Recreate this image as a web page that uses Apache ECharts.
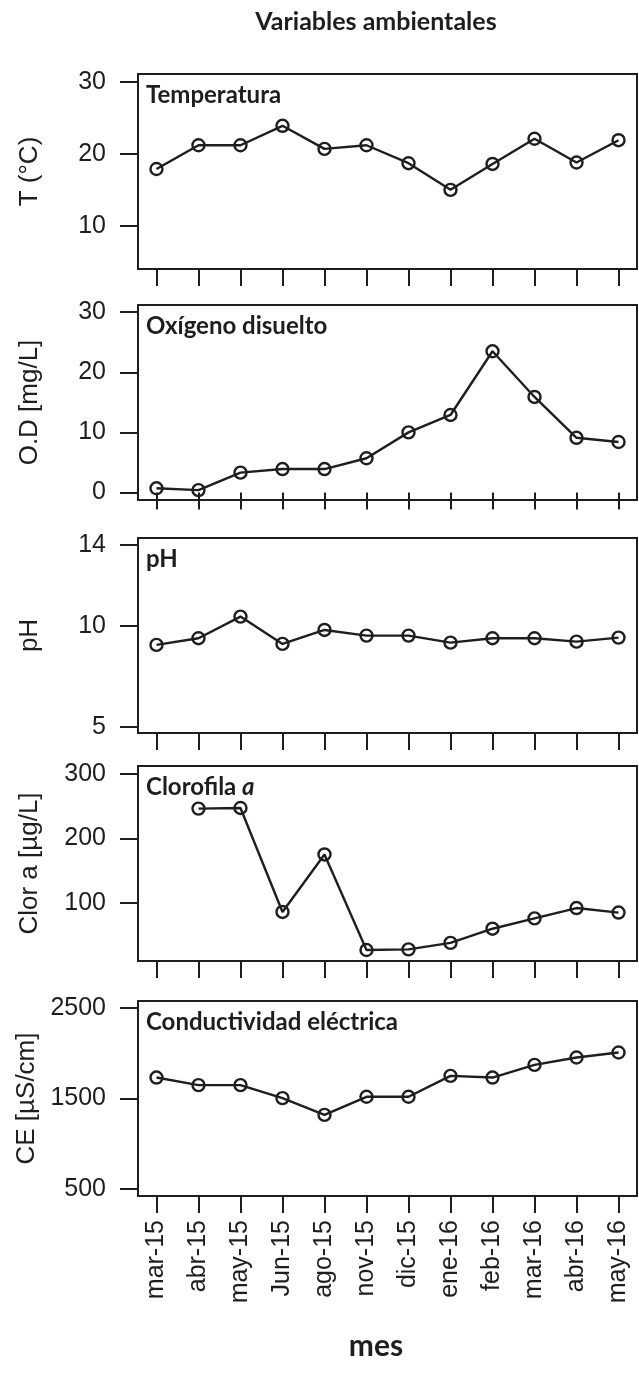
<!DOCTYPE html>
<html>
<head>
<meta charset="utf-8">
<script src="https://cdn.jsdelivr.net/npm/echarts@6/dist/echarts.min.js"></script>
<style>
html,body{margin:0;padding:0;background:#fff}
#main{width:639px;height:1378px}
</style>
</head>
<body>
<div id="main"></div>
<script>
// meses de muestreo
var months = ['mar-15','abr-15','may-15','Jun-15','ago-15','nov-15','dic-15','ene-16','feb-16','mar-16','abr-16','may-16'];
var monthTicks = [1,2,3,4,5,6,7,8,9,10,11,12];

// valores
var temperatura   = [17.9, 21.2, 21.2, 23.9, 20.7, 21.2, 18.7, 15.0, 18.6, 22.1, 18.8, 21.9];
var oxigeno       = [0.7, 0.4, 3.3, 3.9, 3.9, 5.7, 10.0, 12.9, 23.5, 15.9, 9.1, 8.4];
var ph            = [9.06, 9.39, 10.46, 9.11, 9.8, 9.52, 9.52, 9.17, 9.39, 9.39, 9.22, 9.42];
var clorofila     = [null, 246, 247, 86, 175, 27, 28, 38, 60, 76, 92, 85];
var conductividad = [1731, 1648, 1648, 1504, 1320, 1519, 1519, 1750, 1731, 1871, 1952, 2007];

// marcas del eje y
var tempTicks = [10, 20, 30];
var odTicks   = [0, 10, 20, 30];
var phTicks   = [5, 10, 14];
var clorTicks = [100, 200, 300];
var ceTicks   = [500, 1500, 2500];

var panels = [
    {label: 'Temperatura', yname: 'T (°C)', data: temperatura, ticks: tempTicks, min: 4, max: 31.1, top: 74},
    {label: 'Oxígeno disuelto', yname: 'O.D [mg/L]', data: oxigeno, ticks: odTicks, min: -1.25, max: 31.2, top: 305},
    {label: 'pH', yname: 'pH', data: ph, ticks: phTicks, min: 4.7, max: 14.35, top: 538},
    {label: 'Clorofila {i|a}', yname: 'Clor a [µg/L]', data: clorofila, ticks: clorTicks, min: 10, max: 312, top: 766},
    {label: 'Conductividad eléctrica', yname: 'CE [µS/cm]', data: conductividad, ticks: ceTicks, min: 425, max: 2575, top: 1001}
];

var ink = '#1e1e1e';
var labelFont = 'Liberation Sans';
var boldFont = 'Lato';

var grids = [], xAxes = [], yAxes = [], series = [], titles = [];

panels.forEach(function (p, k) {
    var last = k === panels.length - 1;
    grids.push({
        left: 138, width: 499, top: p.top, height: 195,
        show: true, borderColor: ink, borderWidth: 2, backgroundColor: 'transparent'
    });
    xAxes.push({
        type: 'value', gridIndex: k, min: 0.56, max: 12.44,
        axisLine: {show: false},
        splitLine: {show: false},
        axisTick: {show: true, length: 17, customValues: monthTicks, lineStyle: {color: ink, width: 2}},
        axisLabel: {
            show: last, customValues: monthTicks, rotate: 90, margin: 24,
            fontFamily: labelFont, fontSize: 25, color: ink,
            formatter: function (v) { return months[Math.round(v) - 1]; }
        }
    });
    yAxes.push({
        type: 'value', gridIndex: k, min: p.min, max: p.max,
        name: p.yname, nameLocation: 'middle', nameGap: 95, nameRotate: 90,
        nameTextStyle: {fontFamily: labelFont, fontSize: 26, color: ink},
        axisLine: {show: false},
        splitLine: {show: false},
        axisTick: {show: true, length: 18, customValues: p.ticks, lineStyle: {color: ink, width: 2}},
        axisLabel: {
            customValues: p.ticks, margin: 32, fontFamily: labelFont, fontSize: 25, color: ink,
            formatter: function (v) { return String(v); }
        }
    });
    series.push({
        type: 'line', xAxisIndex: k, yAxisIndex: k,
        data: p.data.map(function (v, i) { return [monthTicks[i], v]; }),
        symbol: 'circle', symbolSize: 12,
        lineStyle: {color: ink, width: 2.4},
        itemStyle: {color: 'rgba(0,0,0,0)', borderColor: ink, borderWidth: 2.4},
        emphasis: {disabled: true},
        animation: false
    });
    titles.push({
        text: p.label, left: 146, top: p.top + 9, padding: 0,
        textStyle: {
            fontFamily: boldFont, fontWeight: 'bold', fontSize: 24, color: ink,
            rich: {i: {fontFamily: boldFont, fontWeight: 'bold', fontStyle: 'italic', fontSize: 24, color: ink}}
        }
    });
});

var chart = echarts.init(document.getElementById('main'));
chart.setOption({
    backgroundColor: '#fff',
    animation: false,
    title: titles,
    grid: grids,
    xAxis: xAxes,
    yAxis: yAxes,
    series: series,
    graphic: [
        {type: 'text', x: 376, y: 22,
         style: {text: 'Variables ambientales', align: 'center', verticalAlign: 'middle',
                 font: 'bold 25px Lato', fill: ink}},
        {type: 'text', x: 376, y: 1346,
         style: {text: 'mes', align: 'center', verticalAlign: 'middle', font: 'bold 30px Lato', fill: ink}}
    ]
});
</script>
</body>
</html>
